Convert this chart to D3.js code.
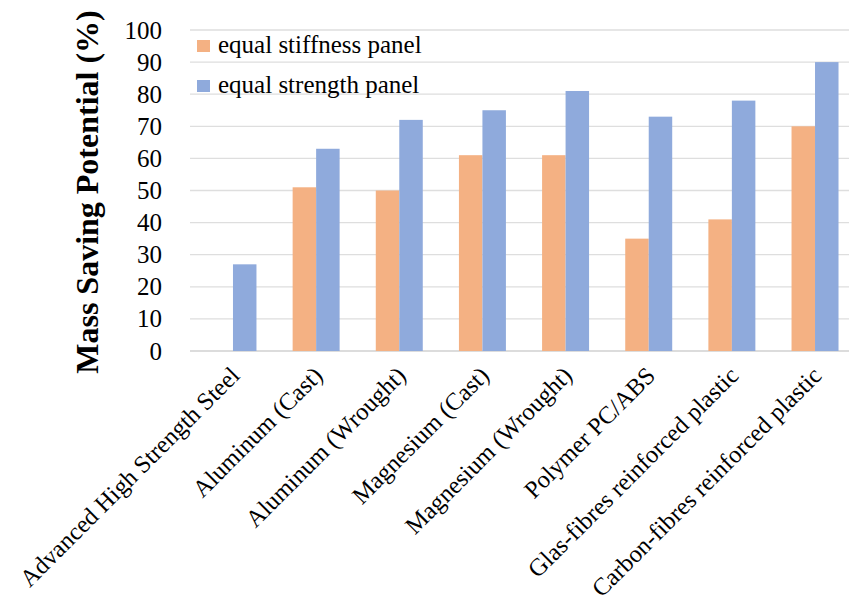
<!DOCTYPE html>
<html>
<head>
<meta charset="utf-8">
<script src="https://cdn.jsdelivr.net/npm/d3@7"></script>
<style>
  html, body { margin: 0; padding: 0; background: #fff; }
  svg { display: block; }
  text { font-family: "Liberation Serif", "Times New Roman", serif; fill: #000; }
</style>
</head>
<body>
<svg id="chart" width="849" height="606"></svg>
<script>
// Material categories and mass saving potential (%) per panel design criterion
const categories = [
  "Advanced High Strength Steel",
  "Aluminum (Cast)",
  "Aluminum (Wrought)",
  "Magnesium (Cast)",
  "Magnesium (Wrought)",
  "Polymer PC/ABS",
  "Glas-fibres reinforced plastic",
  "Carbon-fibres reinforced plastic"
];
const seriesNames = ["equal stiffness panel", "equal strength panel"];
const equalStiffness = [0, 51, 50, 61, 61, 35, 41, 70];
const equalStrength  = [27, 63, 72, 75, 81, 73, 78, 90];
const yTicks = [0, 10, 20, 30, 40, 50, 60, 70, 80, 90, 100];
const seriesColors = ["#F4B183", "#8FAADC"];

const seriesValues = [equalStiffness, equalStrength];
const rows = categories.map((c, i) => ({
  category: c,
  values: seriesNames.map((s, k) => ({ series: s, value: seriesValues[k][i] }))
}));

const svg = d3.select("#chart");

const x = d3.scaleBand().domain(categories).range([191.4, 856.6]).paddingInner(0).paddingOuter(0);
const xs = d3.scaleBand().domain(seriesNames).range([0, x.bandwidth()]).paddingInner(0).paddingOuter(0.77);
const y = d3.scaleLinear().domain([0, 100]).range([351, 30]);
const color = d3.scaleOrdinal().domain(seriesNames).range(seriesColors);

// Horizontal gridlines
svg.append("g")
  .selectAll("line")
  .data(yTicks)
  .join("line")
  .attr("x1", 190).attr("x2", 849)
  .attr("y1", d => y(d)).attr("y2", d => y(d))
  .attr("stroke", d => d === 0 ? "#d0d0d0" : "#dedede")
  .attr("stroke-width", 1.3);

// Y axis tick labels
const yAxis = d3.axisLeft(y).tickValues(yTicks).tickSize(0).tickPadding(0);
const gy = svg.append("g").attr("transform", "translate(162,0)").call(yAxis);
gy.select(".domain").remove();
gy.selectAll("text")
  .attr("font-family", "'Liberation Serif', 'Times New Roman', serif")
  .attr("font-size", 25)
  .attr("fill", "#000");

// Bars
const groups = svg.append("g")
  .selectAll("g")
  .data(rows)
  .join("g")
  .attr("transform", d => `translate(${x(d.category)},0)`);

groups.selectAll("rect")
  .data(d => d.values)
  .join("rect")
  .attr("x", d => xs(d.series))
  .attr("width", xs.bandwidth())
  .attr("y", d => y(d.value))
  .attr("height", d => y(0) - y(d.value))
  .attr("fill", d => color(d.series));

// Rotated category labels
svg.append("g")
  .selectAll("text")
  .data(categories)
  .join("text")
  .attr("transform", d => `translate(${x(d) + x.bandwidth() / 2 + 8},377) rotate(-45)`)
  .attr("text-anchor", "end")
  .attr("font-size", 24.5)
  .text(d => d);

// Y axis title
svg.append("text")
  .attr("transform", "translate(98,192) rotate(-90)")
  .attr("text-anchor", "middle")
  .attr("font-size", 32)
  .attr("font-weight", "bold")
  .text("Mass Saving Potential (%)");

// Legend
const legend = svg.append("g")
  .selectAll("g")
  .data(seriesNames)
  .join("g")
  .attr("transform", (d, i) => `translate(197,${40 + i * 40})`);

legend.append("rect")
  .attr("width", 13).attr("height", 12)
  .attr("fill", d => color(d));

legend.append("text")
  .attr("x", 21).attr("y", 13)
  .attr("font-size", 25)
  .text(d => d);
</script>
</body>
</html>
